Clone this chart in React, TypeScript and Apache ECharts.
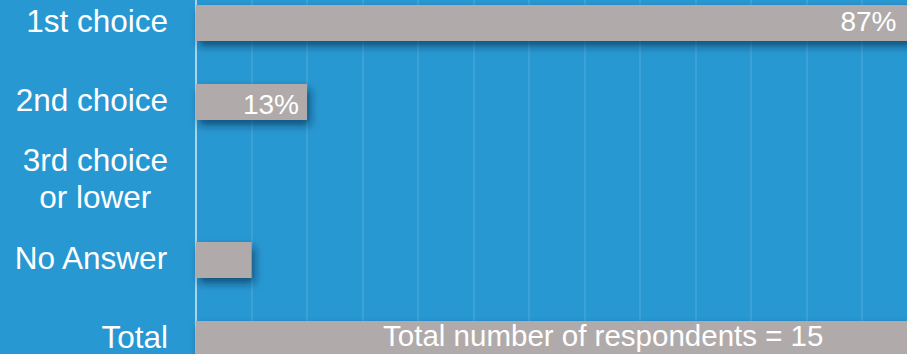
import React, { useEffect, useRef } from "react";
import * as echarts from "echarts";

const categories = ["1st choice", "2nd choice", "3rd choice\nor lower", "No Answer", "Total"];
const counts = [13, 2, 0, 1, 15];
const valueLabels = ["87%", "13%", "", "", "Total number of respondents = 15"];
const totalRespondents = 15;

export default function App() {
  const ref = useRef<HTMLDivElement>(null);
  useEffect(() => {
    if (!ref.current) return;
    const chart = echarts.init(ref.current, null, { renderer: "svg" });
    const barColor = "#b0abaa";
    const shadow = {
      shadowColor: "rgba(0,30,60,0.6)",
      shadowBlur: 8,
      shadowOffsetX: 3,
      shadowOffsetY: 5,
    };
    const data = counts.map((v, i) => {
      const isTotal = i === categories.length - 1;
      const lbl = valueLabels[i];
      return {
        value: v,
        itemStyle: { color: barColor, ...shadow },
        label: {
          show: lbl !== "",
          formatter: lbl,
          position: isTotal ? "inside" : "insideRight",
          distance: 8,
          offset: isTotal ? [-9, -4] : i === 0 ? [-13, -2] : [0, 2],
          color: "#ffffff",
          fontSize: isTotal ? 29.5 : 28,
          fontFamily: "Liberation Sans, Arial, sans-serif",
        },
      };
    });
    chart.setOption({
      animation: false,
      backgroundColor: "#2898d2",
      grid: { left: 196, top: 13.5, height: 395, width: totalRespondents * 55.5 },
      xAxis: {
        type: "value",
        min: 0,
        max: totalRespondents,
        interval: 1,
        axisLabel: { show: false },
        axisLine: { show: false },
        axisTick: { show: false },
        splitLine: { show: true, lineStyle: { color: "rgba(255,255,255,0.13)", width: 1.5 } },
      },
      yAxis: {
        type: "category",
        inverse: true,
        data: categories,
        axisLine: { show: true, lineStyle: { color: "rgba(255,255,255,0.55)", width: 2 } },
        axisTick: { show: false },
        splitLine: { show: false },
        axisLabel: {
          margin: 28,
          padding: [0, 0, 5, 0],
          formatter: (v: string) => v.split("\n").map((l) => `{c|${l}}`).join("\n"),
          rich: {
            c: {
              color: "#ffffff",
              fontSize: 31.5,
              lineHeight: 37,
              align: "center",
              fontFamily: "Liberation Sans, Arial, sans-serif",
            },
          },
        },
      },
      series: [
        {
          type: "bar",
          barWidth: 36,
          data,
        },
      ],
    });
    return () => chart.dispose();
  }, []);
  return (
    <div style={{ position: "fixed", left: 0, top: 0, width: 907, height: 354, overflow: "hidden", background: "#2898d2" }}>
      <div ref={ref} style={{ position: "absolute", left: 0, top: -30, width: 1060, height: 420 }} />
    </div>
  );
}
